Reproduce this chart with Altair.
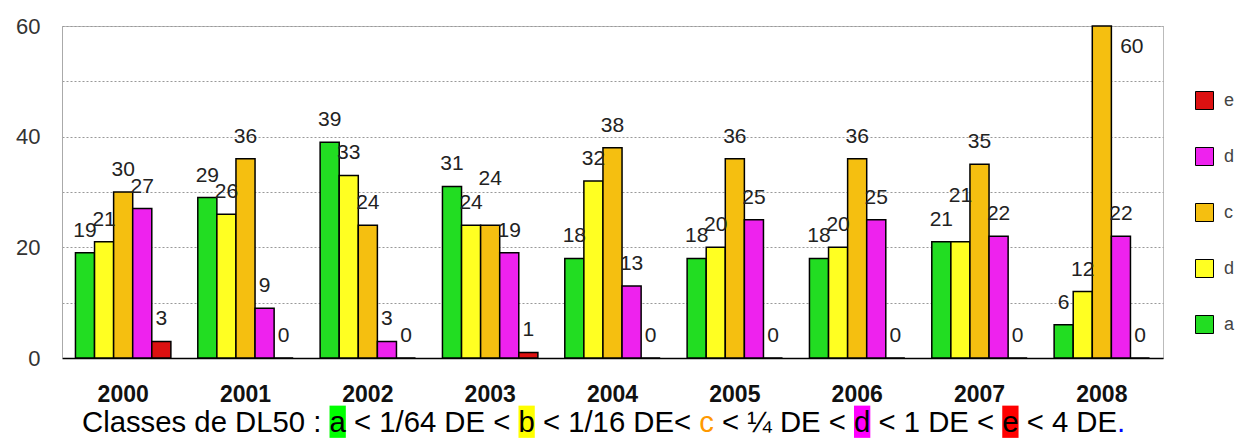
import altair as alt
import pandas as pd

years = ["2000", "2001", "2002", "2003", "2004", "2005", "2006", "2007", "2008"]
classes = ["a", "b", "c", "d", "e"]
a_vals = [19, 29, 39, 31, 18, 18, 18, 21, 6]
b_vals = [21, 26, 33, 24, 32, 20, 20, 21, 12]
c_vals = [30, 36, 24, 24, 38, 36, 36, 35, 60]
d_vals = [27, 9, 3, 19, 13, 25, 25, 22, 22]
e_vals = [3, 0, 0, 1, 0, 0, 0, 0, 0]
class_colors = ["#22dd22", "#ffff22", "#f5bf10", "#ee22ee", "#dd1111"]
legend_order = ["e", "d", "c", "b", "a"]

caption_parts = ["Classes de DL50 : ", "a", " < 1/64 DE < ", "b", " < 1/16 DE< ", "c",
                 " < \u00bc DE < ", "d", " < 1 DE < ", "e", " < 4 DE", "."]
caption_text_colors = ["black", "black", "black", "black", "black", "#ff9900",
                       "black", "black", "black", "black", "black", "#0000ff"]
caption_bg_colors = ["", "#00ff00", "", "#ffff00", "", "", "", "#ff00ff", "", "#ff0000", "", ""]

# ---- layout ----
PW, PH = 1101, 332
FS = 29.3
CAP_X0 = 20
CAP_BASE = 406

# Helvetica/Arial advance widths (1/1000 em) for caption layout
AFM = {' ': 278, '<': 584, '/': 278, '1': 556, '6': 556, '4': 556, 'D': 722, 'E': 667,
       'L': 556, '5': 556, '0': 556, ':': 278, 'C': 722, 'l': 222, 'a': 556, 's': 500,
       'e': 556, 'd': 556, 'b': 556, 'c': 500, '\u00bc': 834, '.': 278}


def tw(s):
    return sum(AFM.get(ch, 556) for ch in s) * FS / 1000.0


cap_rows = []
cx = CAP_X0
for p, tc, bg in zip(caption_parts, caption_text_colors, caption_bg_colors):
    w = tw(p)
    stripped = p.lstrip(" ")
    lead = tw(p[: len(p) - len(stripped)])
    cap_rows.append({"t": stripped, "x": cx + lead, "bx": cx, "bx2": cx + w, "tc": tc, "bg": bg,
                     "y": CAP_BASE - FS * 0.9, "y2": CAP_BASE + FS * 0.2, "yb": CAP_BASE})
    cx += w
cap = pd.DataFrame(cap_rows)
cap_bg = cap[cap["bg"] != ""]

vals = {"a": a_vals, "b": b_vals, "c": c_vals, "d": d_vals, "e": e_vals}
rows = []
for c in classes:
    for yr, v in zip(years, vals[c]):
        rows.append({"year": yr, "cls": c, "v": v})
df = pd.DataFrame(rows)

x_enc = alt.X("year:N", sort=years,
              scale=alt.Scale(paddingInner=0.22, paddingOuter=0.11),
              axis=alt.Axis(title=None, labelAngle=0, labelFont="Liberation Sans",
                            labelFontWeight="bold", labelFontSize=23, labelColor="#111",
                            ticks=False, domain=True, domainColor="black", domainWidth=1.5,
                            labelPadding=25))
xo_enc = alt.XOffset("cls:N", scale=alt.Scale(domain=classes, paddingInner=0, paddingOuter=0))
yscale = alt.Scale(domain=[0, 60], nice=False)
yaxis = alt.Axis(title=None, values=[0, 10, 20, 30, 40, 50, 60],
                 labelExpr="datum.value % 20 == 0 ? datum.label : ''",
                 grid=True, gridDash=[2, 2], gridColor="#999",
                 domain=True, domainColor="#aaa", ticks=False,
                 labelPadding=22, labelFontSize=22, labelColor="#333",
                 labelFont="Liberation Sans")
y_enc = alt.Y("v:Q", scale=yscale, axis=yaxis)

base = alt.Chart(df)
bars = base.mark_bar(stroke="black", strokeWidth=1.5).encode(
    x=x_enc, xOffset=xo_enc, y=y_enc,
    color=alt.Color("cls:N", scale=alt.Scale(domain=classes, range=class_colors),
                    legend=alt.Legend(title=None, orient="none", legendX=1133, legendY=65,
                                      values=legend_order,
                                      labelExpr="datum.label == 'b' ? 'd' : datum.label",
                                      symbolType="square", symbolSize=324,
                                      symbolStrokeColor="black", symbolStrokeWidth=1,
                                      labelFontSize=18, labelColor="#444",
                                      labelFont="Liberation Sans",
                                      labelOffset=10, rowPadding=33, padding=0)),
)
lab_kw = dict(fontSize=21, font="Liberation Sans", color="#222", baseline="alphabetic")
# a label whose bar equals its left neighbour is lifted one line, as in the original
lab_base = base.transform_window(
    prev="lag(v)", groupby=["year"], sort=[alt.SortField("cls")]
).transform_calculate(
    ly="datum.prev != null && datum.prev == datum.v ? datum.v + 4.3 : datum.v"
)
y_lab = alt.Y("ly:Q", scale=yscale, axis=yaxis)
labels = lab_base.transform_filter("datum.v < 55").mark_text(dy=-16, **lab_kw).encode(
    x=x_enc, xOffset=xo_enc, y=y_lab, text="v:Q")
labels_hi = lab_base.transform_filter("datum.v >= 55").mark_text(dx=30, dy=27, **lab_kw).encode(
    x=x_enc, xOffset=xo_enc, y=y_lab, text="v:Q")

main = alt.layer(bars, labels, labels_hi)

cap_rect = alt.Chart(cap_bg).mark_rect().encode(
    x=alt.X("bx:Q", scale=None, axis=None), x2="bx2:Q",
    y=alt.Y("y:Q", scale=None, axis=None), y2="y2:Q",
    color=alt.Color("bg:N", scale=None))
cap_text = alt.Chart(cap).mark_text(align="left", baseline="alphabetic", fontSize=FS,
                                    font="Liberation Sans").encode(
    x=alt.X("x:Q", scale=None, axis=None),
    y=alt.Y("yb:Q", scale=None, axis=None),
    text="t:N",
    color=alt.Color("tc:N", scale=None))

chart = alt.layer(main, cap_rect, cap_text).resolve_scale(
    x="independent", y="independent", color="independent"
).properties(
    width=PW, height=PH,
    padding={"left": 54, "top": 18, "right": 73, "bottom": 80},
    autosize=alt.AutoSizeParams(type="none"),
    background="white",
).configure_view(stroke="#bbb", strokeWidth=1)

chart.save("out.html", embed_options={"renderer": "svg", "actions": False})
